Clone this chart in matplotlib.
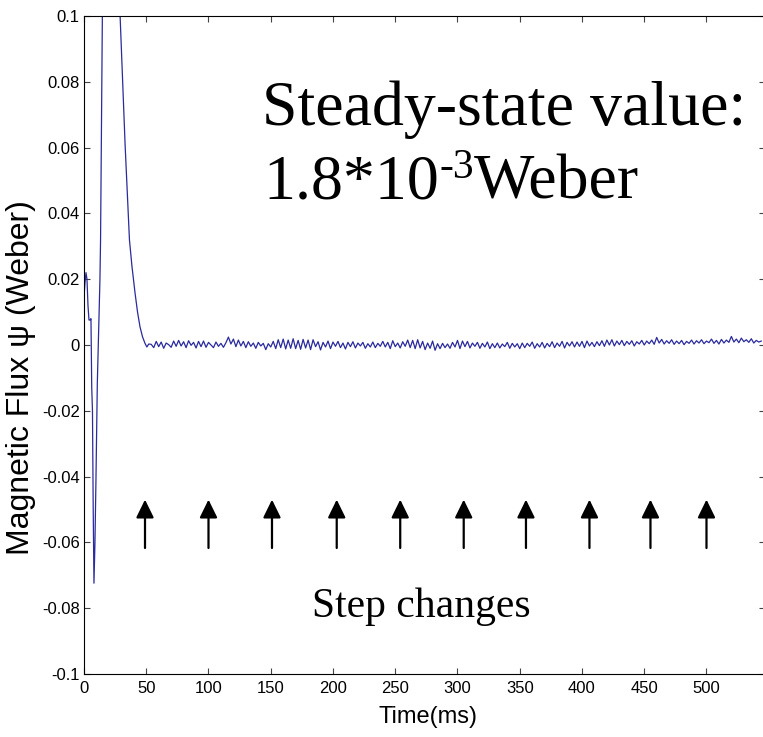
#!/usr/bin/env python3
import numpy as np
import matplotlib

matplotlib.use("Agg")
import matplotlib.pyplot as plt

# start-up transient (time in ms, flux in Weber)
transient_t = [0.0, 0.8, 1.6, 2.4, 3.2, 4.0, 4.8, 5.6, 6.2, 6.8, 7.4, 8.0, 8.8,
               9.6, 10.7, 12.8, 13.3, 14.7, 16.5, 20.0, 24.0, 29.0, 33.0, 36.5,
               38.5, 41.0, 43.0, 45.0, 47.0, 49.0, 50.5, 52.0]
transient_flux = [0.0146, 0.019, 0.022, 0.020, 0.012, 0.0076, 0.0076, 0.008,
                  -0.0128, -0.020, -0.050, -0.0724, -0.060, -0.041, -0.0116,
                  0.0198, 0.032, 0.100, 0.160, 0.170, 0.145, 0.100, 0.061,
                  0.032, 0.024, 0.0158, 0.010, 0.0055, 0.0025, 0.0005, -0.0006, 0.0003]

# steady-state ripple, one sample every 2 ms from 54 ms to 544 ms (in mWb)
steady_t = np.arange(54, 546, 2)
steady_mwb = [
    0.2, -0.8, 1.1, -0.5, 0.9, -1.0, 0.6, 0.1, -0.7, 1.2,
    -0.4, 1.4, -0.3, 1.0, -0.8, 1.3, -0.1, 0.8, -0.9, 1.1,
    -0.5, 1.2, -0.7, 0.8, 0.0, -0.8, 0.9, -0.4, 0.5, -0.7,
    0.7, 2.4, 0.3, 1.8, -0.5, 1.5, -0.3, 1.1, -0.8, 1.0,
    -0.4, 0.6, -1.0, 0.8, -0.3, 0.5, -1.4, 0.4, -0.6, 1.1,
    -1.1, 1.6, -0.8, 1.8, -1.2, 1.5, -1.0, 1.9, -1.1, 1.4,
    -1.3, 1.7, -0.9, 1.5, -1.4, 1.6, -0.5, 1.0, -1.5, 0.8,
    -0.6, 1.2, -1.1, 0.9, -0.4, 1.1, -0.8, 0.6, -1.2, 0.8,
    -0.5, 1.0, -0.9, 0.6, -0.3, 0.8, -1.0, 0.4, -0.6, 0.9,
    -0.8, 0.5, -0.4, 1.1, -0.6, 0.8, -1.1, 1.3, -0.5, 0.6,
    -0.9, 1.0, -0.4, 1.5, -0.8, 1.4, -1.1, 1.6, -0.9, 1.1,
    -1.4, 0.6, -1.0, 1.2, -1.6, 0.4, -1.1, 0.5, -0.8, 0.3,
    -1.0, 0.8, -0.6, 1.4, -1.1, 1.2, -0.5, 1.1, -0.9, 0.6,
    -0.4, 0.8, -1.0, 0.5, -0.6, 0.9, -1.1, 0.4, -0.8, 0.6,
    -0.9, 0.3, -0.5, 0.8, -1.0, 0.5, -0.6, 0.4, -1.1, 0.6,
    -0.8, 0.5, -0.4, 0.9, -1.0, 0.4, -0.6, 0.8, -0.9, 0.5,
    -0.5, 1.0, -0.8, 0.6, -0.4, 1.1, -0.9, 0.8, -0.3, 1.0,
    -0.6, 0.9, -0.4, 1.1, -0.8, 1.2, -0.3, 0.8, -0.5, 1.0,
    -0.2, 1.3, -0.4, 1.5, 0.0, 1.6, -0.3, 1.2, 0.1, 1.4,
    -0.2, 1.1, 0.2, 1.3, -0.3, 1.0, 0.3, 1.4, 0.0, 1.2,
    0.4, 1.5, 0.2, 2.3, 0.6, 1.7, 0.3, 1.3, 0.5, 1.6,
    0.2, 1.2, 0.4, 1.4, 0.1, 1.1, 0.5, 1.5, 0.3, 1.3,
    0.6, 1.6, 0.4, 1.2, 0.7, 1.8, 0.5, 1.4, 0.3, 1.7,
    0.6, 1.5, 0.8, 2.6, 0.9, 1.8, 0.7, 2.1, 1.0, 1.6,
    0.8, 1.9, 0.6, 1.4, 0.9, 1.2,
]

step_times = [49, 100, 151, 203, 254, 305, 355, 406, 455, 500]
arrow_top = -0.047
arrow_bottom = -0.0617

x_ticks = [0, 50, 100, 150, 200, 250, 300, 350, 400, 450, 500]
y_ticks = [-0.1, -0.08, -0.06, -0.04, -0.02, 0.0, 0.02, 0.04, 0.06, 0.08, 0.1]
y_tick_labels = ["-0.1", "-0.08", "-0.06", "-0.04", "-0.02", "0",
                 "0.02", "0.04", "0.06", "0.08", "0.1"]

SANS = ["Liberation Sans", "DejaVu Sans"]
SERIF = ["Liberation Serif", "DejaVu Serif"]


def main() -> None:
    t = np.concatenate([transient_t, steady_t])
    flux = np.concatenate([transient_flux, np.array(steady_mwb) * 1e-3])

    fig = plt.figure(figsize=(7.63, 7.37), dpi=100)
    ax = fig.add_axes([84 / 763, 63 / 737, 681 / 763, 658 / 737])

    ax.plot(t, flux, color="#2a2a9e", lw=0.9)

    for st in step_times:
        ax.annotate("", xy=(st, arrow_top), xytext=(st, arrow_bottom),
                    arrowprops=dict(arrowstyle="-|>,head_width=0.27,head_length=0.55",
                                    lw=1.6, color="black", shrinkA=0, shrinkB=0,
                                    mutation_scale=20))

    ax.set_xlim(0, 547)
    ax.set_ylim(-0.1, 0.1)
    ax.set_xticks(x_ticks)
    ax.set_xticklabels([str(v) for v in x_ticks])
    ax.set_yticks(y_ticks)
    ax.set_yticklabels(y_tick_labels)
    ax.tick_params(direction="in", length=4, width=0.8, top=True, right=True,
                   labelsize=12, color="#444444")
    ax.tick_params(axis="x", pad=5)
    ax.tick_params(axis="y", pad=3)
    for lab in ax.get_xticklabels() + ax.get_yticklabels():
        lab.set_family(SANS)

    ax.set_xlabel("Time(ms)", fontsize=17, family=SANS)
    ax.xaxis.set_label_coords(0.505, -0.048)
    ax.set_ylabel("Magnetic Flux \u03c8 (Weber)", fontsize=23, family=SANS)
    ax.yaxis.set_label_coords(-0.07, 0.45)

    ax.text(0.262, 0.834, "Steady-state value:", transform=ax.transAxes,
            fontsize=46, family=SERIF, ha="left", va="baseline")
    t1 = ax.text(0.264, 0.722, "1.8*10", transform=ax.transAxes,
                 fontsize=46, family=SERIF, ha="left", va="baseline")
    sup = ax.annotate("-3", xy=(1, 0), xycoords=t1, xytext=(0, 19),
                      textcoords="offset points", fontsize=30, family=SERIF,
                      ha="left", va="bottom")
    ax.annotate("Weber", xy=(1, 0), xycoords=(sup, t1), fontsize=46,
                family=SERIF, ha="left", va="bottom")

    ax.text(0.496, 0.087, "Step changes", transform=ax.transAxes,
            fontsize=30, family=SERIF, ha="center", va="baseline")

    fig.savefig("out.png", dpi=100)
    plt.close(fig)


if __name__ == "__main__":
    main()
